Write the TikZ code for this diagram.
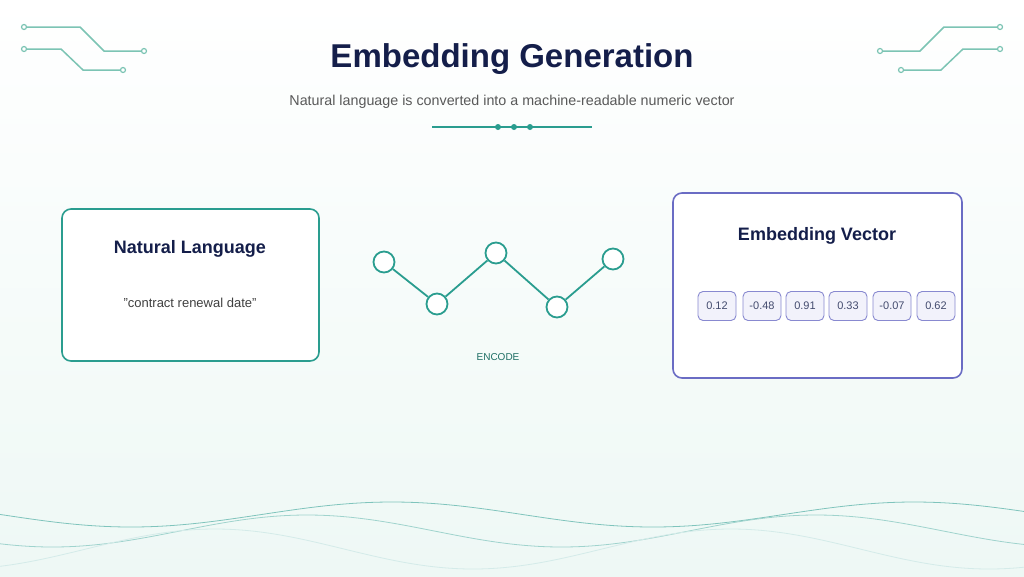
\documentclass[tikz,border=0pt]{standalone}
\usepackage{fontspec}
\setmainfont{Liberation Sans}
\begin{document}
\definecolor{teal1}{HTML}{2A9D8F}
\definecolor{tealc}{HTML}{7CC4B4}
\definecolor{navy}{HTML}{141E4A}
\definecolor{purp}{HTML}{6A6CC4}
\definecolor{chipf}{HTML}{F2F2FB}
\definecolor{bgb}{HTML}{EEF8F5}
\begin{tikzpicture}[x=1pt,y=-1pt,
  circ/.style={draw=tealc,line width=1.5pt},
  dot/.style={circle,draw=tealc,line width=1.2pt,inner sep=0,minimum size=5pt,fill=white},
  box/.style={draw,rounded corners=9pt,line width=1.6pt,fill=white},
  chip/.style={draw=purp!80,fill=chipf,rounded corners=5pt,line width=0.9pt,minimum width=38pt,minimum height=29pt,inner sep=0,font=\fontsize{11}{13}\selectfont,text=navy!80},
  gn/.style={circle,draw=teal1,line width=1.8pt,fill=white,minimum size=21pt,inner sep=0},
  ge/.style={draw=teal1,line width=1.8pt}]
\shade[top color=white,bottom color=bgb] (0,0) rectangle (1024,576);
\useasboundingbox (0,0) rectangle (1024,576);
% waves
\draw[teal1!60,line width=0.8pt] plot[domain=0:1024,samples=120,smooth] (\x,{514.5-12.5*cos((\x-392)/522*360)});
\draw[teal1!45,line width=0.8pt] plot[domain=0:1024,samples=120,smooth] (\x,{531-16*cos((\x-307)/509*360)});
\draw[teal1!20,line width=0.8pt] plot[domain=0:1024,samples=120,smooth] (\x,{549-20*cos((\x-215)/516*360)});
% circuits
\node[dot] (l1a) at (24,27) {}; \node[dot] (l1b) at (144,51) {};
\draw[circ] (l1a) -- (80,27) -- (104,51) -- (l1b);
\node[dot] (l2a) at (24,49) {}; \node[dot] (l2b) at (123,70) {};
\draw[circ] (l2a) -- (61,49) -- (83,70) -- (l2b);
\node[dot] (r1a) at (1000,27) {}; \node[dot] (r1b) at (880,51) {};
\draw[circ] (r1a) -- (944,27) -- (920,51) -- (r1b);
\node[dot] (r2a) at (1000,49) {}; \node[dot] (r2b) at (901,70) {};
\draw[circ] (r2a) -- (963,49) -- (941,70) -- (r2b);
% title
\node[font=\bfseries\fontsize{33}{38}\selectfont,text=navy] (title) at (512,59) {Embedding Generation};
\node[font=\fontsize{14.3}{17}\selectfont,text=black!65] (sub) at (512,102) {Natural language is converted into a machine-readable numeric vector};
\coordinate (dl) at (432,127); \coordinate (dr) at (592,127);
\draw[teal1,line width=1.2pt] (dl) -- (dr);
\foreach \i/\xx in {1/498,2/514,3/530} \node[circle,fill=teal1,inner sep=0,minimum size=6pt] (d\i) at (\xx,127) {};
% left box
\draw[box,draw=teal1] (62,209) rectangle (319,361);
\node[font=\bfseries\fontsize{18}{21}\selectfont,text=navy] (nlt) at (190,249) {Natural Language};
\node[font=\fontsize{13}{16}\selectfont,text=black!75] (nlq) at (190,303) {\symbol{34}contract renewal date\symbol{34}};
% graph
\node[gn] (g1) at (384,262) {};
\node[gn] (g2) at (437,304) {};
\node[gn] (g3) at (496,253) {};
\node[gn] (g4) at (557,307) {};
\node[gn] (g5) at (613,259) {};
\draw[ge] (g1) -- (g2); \draw[ge] (g2) -- (g3); \draw[ge] (g3) -- (g4); \draw[ge] (g4) -- (g5);
\node[font=\fontsize{10}{12}\selectfont,text=teal1!70!black] (enc) at (498,357) {ENCODE};
% right box
\draw[box,draw=purp] (673,193) rectangle (962,378);
\node[font=\bfseries\fontsize{18}{21}\selectfont,text=navy] (evt) at (817,236) {Embedding Vector};
\foreach \i/\xx/\v in {1/717/0.12,2/762/-0.48,3/805/0.91,4/848/0.33,5/892/-0.07,6/936/0.62}
  \node[chip] (c\i) at (\xx,306) {\v};
\end{tikzpicture}
\end{document}
